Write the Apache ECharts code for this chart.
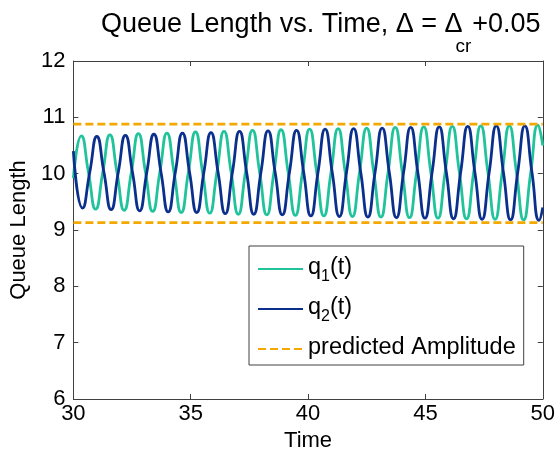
<!DOCTYPE html>
<html>
<head>
<meta charset="utf-8">
<script src="https://cdn.jsdelivr.net/npm/echarts@6/dist/echarts.min.js"></script>
<style>html,body{margin:0;padding:0;background:#fff;}#c{width:558px;height:457px;}</style>
</head>
<body>
<div id="c"></div>
<script>
// ---- data ----
var q1Time = [30, 30.34, 30.644, 30.948, 31.252, 31.556, 31.86, 32.164, 32.468, 32.771, 33.075, 33.379, 33.683, 33.987, 34.291, 34.595, 34.899, 35.203, 35.507, 35.811, 36.115, 36.419, 36.723, 37.027, 37.33, 37.634, 37.938, 38.242, 38.546, 38.85, 39.154, 39.458, 39.762, 40.066, 40.37, 40.674, 40.977, 41.281, 41.585, 41.889, 42.193, 42.497, 42.801, 43.105, 43.409, 43.713, 44.017, 44.321, 44.624, 44.928, 45.232, 45.536, 45.84, 46.144, 46.448, 46.752, 47.056, 47.36, 47.664, 47.968, 48.272, 48.576, 48.88, 49.184, 49.488, 49.791, 50];
var q1Value = [9.92, 10.67, 10.02, 9.37, 10.02, 10.69, 10.02, 9.35, 10.02, 10.71, 10.02, 9.33, 10.02, 10.72, 10.02, 9.31, 10.02, 10.74, 10.02, 9.30, 10.02, 10.75, 10.02, 9.28, 10.02, 10.77, 10.02, 9.27, 10.02, 10.78, 10.02, 9.26, 10.02, 10.79, 10.02, 9.25, 10.02, 10.80, 10.02, 9.24, 10.02, 10.81, 10.02, 9.23, 10.02, 10.82, 10.02, 9.22, 10.02, 10.83, 10.02, 9.21, 10.02, 10.84, 10.02, 9.20, 10.02, 10.85, 10.02, 9.19, 10.02, 10.85, 10.02, 9.18, 10.02, 10.86, 10.50];
var q2Time = [30, 30.392, 30.696, 31.0, 31.304, 31.608, 31.912, 32.216, 32.52, 32.823, 33.127, 33.431, 33.735, 34.039, 34.343, 34.647, 34.951, 35.255, 35.559, 35.863, 36.167, 36.471, 36.775, 37.079, 37.383, 37.686, 37.99, 38.294, 38.598, 38.902, 39.206, 39.51, 39.814, 40.118, 40.422, 40.726, 41.03, 41.333, 41.637, 41.941, 42.245, 42.549, 42.853, 43.157, 43.461, 43.765, 44.069, 44.373, 44.677, 44.98, 45.284, 45.588, 45.892, 46.196, 46.5, 46.804, 47.108, 47.412, 47.716, 48.02, 48.324, 48.628, 48.932, 49.236, 49.54, 49.844, 50];
var q2Value = [10.40, 9.39, 10.02, 10.66, 10.02, 9.36, 10.02, 10.68, 10.02, 9.34, 10.02, 10.70, 10.02, 9.32, 10.02, 10.72, 10.02, 9.31, 10.02, 10.73, 10.02, 9.29, 10.02, 10.75, 10.02, 9.28, 10.02, 10.76, 10.02, 9.27, 10.02, 10.77, 10.02, 9.25, 10.02, 10.79, 10.02, 9.24, 10.02, 10.80, 10.02, 9.23, 10.02, 10.81, 10.02, 9.22, 10.02, 10.82, 10.02, 9.21, 10.02, 10.83, 10.02, 9.20, 10.02, 10.84, 10.02, 9.19, 10.02, 10.85, 10.02, 9.18, 10.02, 10.85, 10.02, 9.17, 9.40];
var ampTime = [30, 50];
var ampUpper = [10.88, 10.88];
var ampLower = [9.13, 9.13];
var seriesNames = ['q1(t)', 'q2(t)', 'predicted Amplitude'];
var titleParts = ['Queue Length vs. Time, Δ = Δ', 'cr', '+0.05'];

function pairs(t, v) { return t.map(function (x, i) { return [x, v[i]]; }); }

var FONT = 'Liberation Sans, Arial, sans-serif';
var AX = '#404040';
var TITLE_SIZE = 27, SUB_SIZE = 19;

var ctx = document.createElement('canvas').getContext('2d');
function textW(s, size) { ctx.font = size + 'px ' + FONT; return ctx.measureText(s).width; }
var tx0 = 101;
var tx1 = tx0 + textW(titleParts[0], TITLE_SIZE) - 7;
var tx2 = tx1 + textW(titleParts[1], SUB_SIZE) + 1;

var chart = echarts.init(document.getElementById('c'), null, { renderer: 'canvas' });

var baseAxis = {
  axisLine: { show: true, lineStyle: { color: AX, width: 1 } },
  axisTick: { show: true, inside: true, length: 5, lineStyle: { color: AX } },
  splitLine: { show: false }
};

chart.setOption({
  animation: false,
  backgroundColor: '#fff',
  graphic: [
    { type: 'text', left: tx0, top: 11, style: { text: titleParts[0], font: TITLE_SIZE + 'px ' + FONT, fill: '#000' } },
    { type: 'text', left: tx1, top: 37, style: { text: titleParts[1], font: SUB_SIZE + 'px ' + FONT, fill: '#000' } },
    { type: 'text', left: tx2, top: 11, style: { text: titleParts[2], font: TITLE_SIZE + 'px ' + FONT, fill: '#000' } }
  ],
  grid: { left: 71, right: 13, top: 61, bottom: 58 },
  legend: {
    orient: 'vertical', left: 249, top: 246,
    padding: [10, 8, 5, 8],
    backgroundColor: '#fff',
    borderColor: AX, borderWidth: 1, borderRadius: 0,
    itemWidth: 45, itemHeight: 14, itemGap: 11,
    itemStyle: { opacity: 0 },
    data: seriesNames,
    formatter: function (n) {
      if (n === 'q1(t)') return '{a|q}{s|1}{a|(t)}';
      if (n === 'q2(t)') return '{a|q}{s|2}{a|(t)}';
      return '{a|' + n + '}';
    },
    textStyle: {
      rich: {
        a: { fontFamily: FONT, fontSize: 23.5, lineHeight: 26, color: '#000', verticalAlign: 'top' },
        s: { fontFamily: FONT, fontSize: 16, lineHeight: 17, color: '#000', verticalAlign: 'top', padding: [13, 0, 0, 0] }
      }
    }
  },
  xAxis: [
    Object.assign({}, baseAxis, {
      type: 'value', min: 30, max: 50, interval: 5, position: 'bottom',
      name: 'Time', nameLocation: 'middle', nameGap: 28,
      nameTextStyle: { fontFamily: FONT, fontSize: 22, color: '#000' },
      axisLabel: { fontFamily: FONT, fontSize: 22, color: '#000', margin: 4 }
    }),
    Object.assign({}, baseAxis, {
      type: 'value', min: 30, max: 50, interval: 5, position: 'top',
      axisLabel: { show: false }
    })
  ],
  yAxis: [
    Object.assign({}, baseAxis, {
      type: 'value', min: 6, max: 12, interval: 1, position: 'left',
      name: 'Queue Length', nameLocation: 'middle', nameGap: 37,
      nameTextStyle: { fontFamily: FONT, fontSize: 22, color: '#000' },
      axisLabel: { fontFamily: FONT, fontSize: 22, color: '#000', margin: 8 }
    }),
    Object.assign({}, baseAxis, {
      type: 'value', min: 6, max: 12, interval: 1, position: 'right',
      axisLabel: { show: false }
    })
  ],
  series: [
    {
      name: seriesNames[0], type: 'line', symbol: 'none', smooth: 0.55,
      data: pairs(q1Time, q1Value), color: '#21C39B',
      lineStyle: { color: '#21C39B', width: 2.8 }, z: 2
    },
    {
      name: seriesNames[1], type: 'line', symbol: 'none', smooth: 0.55,
      data: pairs(q2Time, q2Value), color: '#0B2F8C',
      lineStyle: { color: '#0B2F8C', width: 2.8 }, z: 3
    },
    {
      name: seriesNames[2], type: 'line', symbol: 'none',
      data: pairs(ampTime, ampUpper), color: '#F5A800',
      lineStyle: { color: '#F5A800', width: 2.8, type: [8, 4] }, z: 4
    },
    {
      name: seriesNames[2], type: 'line', symbol: 'none',
      data: pairs(ampTime, ampLower), color: '#F5A800',
      lineStyle: { color: '#F5A800', width: 2.8, type: [8, 4] }, z: 4
    }
  ]
});
</script>
</body>
</html>
